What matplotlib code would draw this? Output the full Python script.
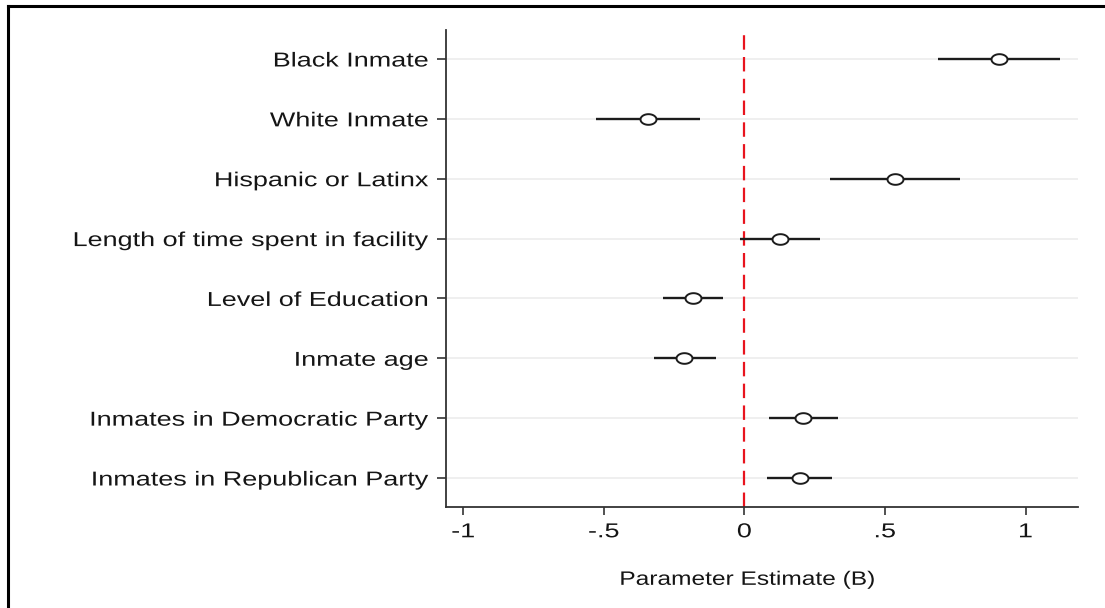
import matplotlib
matplotlib.use("Agg")
import matplotlib.pyplot as plt
import numpy as np
from matplotlib.patheffects import AbstractPathEffect
from matplotlib.transforms import Affine2D
from matplotlib.path import Path
from matplotlib.lines import Line2D

# Coefficient estimates with 95% confidence bounds
labels = [
    "Black Inmate",
    "White Inmate",
    "Hispanic or Latinx",
    "Length of time spent in facility",
    "Level of Education",
    "Inmate age",
    "Inmates in Democratic Party",
    "Inmates in Republican Party",
]
estimates = [0.906, -0.342, 0.536, 0.127, -0.182, -0.214, 0.209, 0.198]
ci_low = [0.690, -0.527, 0.305, -0.015, -0.289, -0.321, 0.088, 0.081]
ci_high = [1.123, -0.158, 0.767, 0.269, -0.076, -0.101, 0.333, 0.312]

xticks = [-1, -0.5, 0, 0.5, 1]
xtick_labels = ["-1", "-.5", "0", ".5", "1"]
xlabel = "Parameter Estimate (B)"

plt.rcParams["font.family"] = ["Liberation Sans", "DejaVu Sans"]


class WideGlyphs(AbstractPathEffect):
    """Draw text glyphs widened horizontally about an anchor edge."""

    def __init__(self, sx, anchor="center"):
        super().__init__()
        self.sx = sx
        self.anchor = anchor

    def draw_path(self, renderer, gc, tpath, affine, rgbFace=None):
        ext = tpath.get_extents()
        if self.anchor == "right":
            x0 = ext.x1
        elif self.anchor == "left":
            x0 = ext.x0
        else:
            x0 = 0.5 * (ext.x0 + ext.x1)
        widen = Affine2D().translate(-x0, 0).scale(self.sx, 1.0).translate(x0, 0)
        renderer.draw_path(gc, tpath, widen + affine, rgbFace)


STRETCH = 1.34
TEXT_COLOR = "#151515"

fig = plt.figure(figsize=(11.05, 6.08), dpi=100)
ax = fig.add_axes([446 / 1105, 1 - 507 / 608, (1078 - 446) / 1105, (507 - 30) / 608])

ypos = np.arange(len(labels))

# horizontal guide lines behind each row
for y in ypos:
    ax.axhline(y, color="#ececec", lw=1.2, zorder=0)

# reference line at zero
ax.axvline(0, color="#e8141e", lw=1.6, dashes=(6.5, 3.3), zorder=2)

# confidence intervals
ax.hlines(ypos, ci_low, ci_high, color="#1c1c1c", lw=1.7, zorder=3)

# elliptical hollow marker for the point estimates
t = np.linspace(0, 2 * np.pi, 60)
ell = Path(np.column_stack([1.5 * np.cos(t), np.sin(t)]), closed=True)
ax.plot(estimates, ypos, linestyle="none", marker=ell, markersize=11.5,
        markerfacecolor="white", markeredgecolor="#1c1c1c", markeredgewidth=1.4,
        zorder=4)

ax.set_xlim((446 - 744.3) / 281.2, (1078 - 744.3) / 281.2)
ax.set_ylim(7 + 29 / 59.86, -29 / 59.86)

ax.set_xticks(xticks)
ax.set_xticklabels(xtick_labels)
ax.set_yticks(ypos)
ax.set_yticklabels(labels)

ax.tick_params(axis="y", direction="out", length=6.5, width=1.2, color="#333333",
               pad=6, labelsize=14.5, labelcolor=TEXT_COLOR)
ax.tick_params(axis="x", direction="out", length=6, width=1.2, color="#333333",
               pad=5, labelsize=14.5, labelcolor=TEXT_COLOR)

for side in ("top", "right"):
    ax.spines[side].set_visible(False)
for side in ("left", "bottom"):
    ax.spines[side].set_color("#333333")
    ax.spines[side].set_linewidth(1.3)

ax.set_xlabel(xlabel, fontsize=14, color=TEXT_COLOR, labelpad=22, x=0.478)

for lab in ax.get_yticklabels():
    lab.set_path_effects([WideGlyphs(STRETCH, "right")])
for lab in ax.get_xticklabels():
    lab.set_path_effects([WideGlyphs(STRETCH, "center")])
ax.xaxis.label.set_path_effects([WideGlyphs(1.26, "center")])

# outer frame lines along the top and left edges
fig.add_artist(Line2D([7.5 / 1105, 1.0], [1 - 5.5 / 608, 1 - 5.5 / 608],
                      transform=fig.transFigure, color="black", lw=2.2))
fig.add_artist(Line2D([7.5 / 1105, 7.5 / 1105], [0, 1 - 5.5 / 608],
                      transform=fig.transFigure, color="black", lw=2.2))

fig.savefig("out.png", dpi=100)
